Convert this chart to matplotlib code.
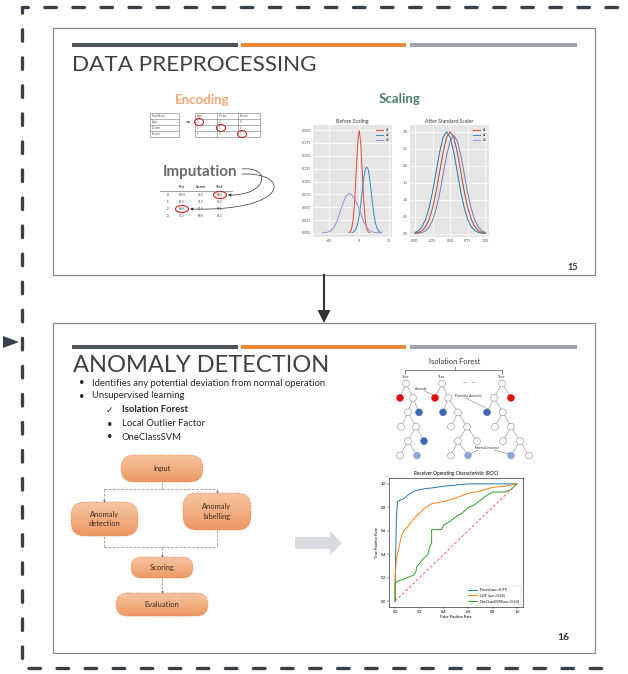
import numpy as np
import matplotlib
matplotlib.use("Agg")
import matplotlib.pyplot as plt
from matplotlib.patches import FancyBboxPatch, Rectangle, Circle, Polygon, Ellipse, FancyArrowPatch
from matplotlib.path import Path
from matplotlib.colors import LinearSegmentedColormap

plt.rcParams['font.family'] = ['Lato', 'DejaVu Sans']
plt.rcParams['lines.scale_dashes'] = False

# ---------------- data ----------------
# densities before scaling
b_x1_x = [-7, -6, -5, -4, -3, -2, -1, 0, 1, 2, 3, 4, 5, 6, 7]
b_x1_y = [0.0004, 0.0022, 0.0088, 0.027, 0.0648, 0.121, 0.176, 0.1995, 0.176, 0.121, 0.0648, 0.027, 0.0088, 0.0022, 0.0004]
b_x2_x = [-5, -4, -3, -2, -1, 0, 1, 2, 3, 4, 5, 6, 7, 8, 9, 10, 11, 12, 13, 14, 15]
b_x2_y = [0.0005, 0.0015, 0.0038, 0.0088, 0.018, 0.033, 0.055, 0.081, 0.106, 0.124, 0.128, 0.124, 0.106, 0.081, 0.055, 0.033, 0.018, 0.0088, 0.0038, 0.0015, 0.0005]
b_x3_x = [-25, -23, -21, -19, -17, -15, -13, -11, -9, -7, -5, -3, -1, 1, 3, 5, 7, 9, 11, 13, 15]
b_x3_y = [0.0001, 0.0005, 0.0016, 0.0045, 0.011, 0.022, 0.039, 0.057, 0.071, 0.077, 0.074, 0.066, 0.054, 0.038, 0.022, 0.011, 0.0045, 0.0016, 0.0005, 0.0001, 0.0]
before_ticks_y = [0.000, 0.025, 0.050, 0.075, 0.100, 0.125, 0.150, 0.175, 0.200]
before_ticks_x = [-20, 0, 20]

# densities after scaling
a_grid = [0.0, 0.05, 0.1, 0.15, 0.2, 0.25, 0.3, 0.35, 0.4, 0.45, 0.5, 0.55, 0.6, 0.65, 0.7, 0.75, 0.8, 0.85, 0.9, 0.95, 1.0]
a_x1_y = [0.012, 0.033, 0.086, 0.20, 0.41, 0.75, 1.23, 1.82, 2.40, 2.84, 3.0, 2.84, 2.40, 1.82, 1.23, 0.75, 0.41, 0.20, 0.086, 0.033, 0.012]
a_x2_y = [0.033, 0.086, 0.20, 0.41, 0.75, 1.23, 1.82, 2.40, 2.84, 3.0, 2.84, 2.40, 1.82, 1.23, 0.75, 0.41, 0.20, 0.086, 0.033, 0.012, 0.004]
a_x3_y = [0.004, 0.012, 0.032, 0.083, 0.19, 0.39, 0.72, 1.18, 1.75, 2.31, 2.73, 2.90, 2.73, 2.31, 1.75, 1.18, 0.72, 0.39, 0.19, 0.083, 0.032]
after_ticks_x = [0.0, 0.25, 0.5, 0.75, 1.0]
after_ticks_y = [0.0, 0.5, 1.0, 1.5, 2.0, 2.5, 3.0]
series_names = ['x1', 'x2', 'x3']

# ROC curves
roc_if_fpr = [0.0, 0.0, 0.005, 0.01, 0.02, 0.04, 0.06, 0.08, 0.10, 0.13, 0.16, 0.20, 0.25, 0.30, 0.40, 0.50, 0.60, 1.0]
roc_if_tpr = [0.0, 0.05, 0.40, 0.70, 0.85, 0.86, 0.87, 0.88, 0.90, 0.92, 0.94, 0.95, 0.96, 0.965, 0.98, 0.99, 1.0, 1.0]
roc_lof_fpr = [0.0, 0.0, 0.01, 0.03, 0.05, 0.07, 0.10, 0.15, 0.18, 0.20, 0.25, 0.30, 0.40, 0.50, 0.60, 0.70, 0.80, 0.90, 1.0]
roc_lof_tpr = [0.0, 0.20, 0.35, 0.45, 0.55, 0.60, 0.63, 0.70, 0.73, 0.75, 0.80, 0.83, 0.85, 0.88, 0.92, 0.94, 0.97, 0.98, 1.0]
roc_svm_fpr = [0.0, 0.0, 0.02, 0.05, 0.10, 0.15, 0.17, 0.18, 0.20, 0.22, 0.25, 0.27, 0.28, 0.30, 0.30, 0.38, 0.40, 0.45, 0.50, 0.55, 0.60, 0.65, 0.70, 0.75, 0.80, 0.90, 0.95, 1.0]
roc_svm_tpr = [0.0, 0.15, 0.17, 0.18, 0.20, 0.22, 0.25, 0.30, 0.32, 0.35, 0.38, 0.40, 0.45, 0.50, 0.61, 0.61, 0.65, 0.68, 0.72, 0.75, 0.80, 0.82, 0.86, 0.90, 0.93, 0.93, 0.95, 1.0]
roc_labels = ['IForest(auc=0.97)', 'LOF (auc=0.84)', 'OneClassSVM(auc=0.64)']
roc_ticks = [0.0, 0.2, 0.4, 0.6, 0.8, 1.0]

# slide text
bullets = ['Identifies any potential deviation from normal operation', 'Unsupervised learning']
sub_items = ['Isolation Forest', 'Local Outlier Factor', 'OneClassSVM']
flow_steps = ['Input', 'Anomaly\ndetection', 'Anomaly\nlabelling', 'Scoring', 'Evaluation']

# ---------------- canvas ----------------
W, H = 628, 674
fig = plt.figure(figsize=(W / 100, H / 100), dpi=100)
ax = fig.add_axes([0, 0, 1, 1])
ax.set_xlim(0, W)
ax.set_ylim(H, 0)
ax.axis('off')

DARK = '#37414a'


def px_axes(x0, y0, x1, y1):
    return fig.add_axes([x0 / W, 1 - y1 / H, (x1 - x0) / W, (y1 - y0) / H])


# outer dashed frame
frame, = ax.plot([617, 22, 22, 617], [7, 7, 668, 668], color=DARK, lw=2.4,
                 dash_capstyle='round', solid_capstyle='round')
frame.set_dashes([8.3, 11.9])
ax.add_patch(Polygon([(3, 336), (19, 342), (3, 348)], closed=True, color=DARK, lw=0))

# slides
for (y0, h) in [(28, 247), (323, 330)]:
    ax.add_patch(Rectangle((53, y0), 542, h, fc='white', ec='#8a8a8a', lw=0.9))

# arrow between slides
ax.plot([324, 324], [275, 311], color='#333333', lw=1.5)
ax.add_patch(Polygon([(317.5, 310), (330.5, 310), (324, 323)], closed=True, color='#333333', lw=0))

# header bars
for yb in (45, 347):
    for (x0, x1, c) in [(72, 238, '#4b555c'), (241, 406, '#e8893a'), (410, 577, '#9ca3a9')]:
        ax.add_patch(Rectangle((x0, yb - 2), x1 - x0, 4, fc=c, ec='none'))

# titles
ax.text(72, 71, 'DATA PREPROCESSING', fontsize=16.2, color='#404040', va='baseline', ha='left')
ax.text(73, 372, 'ANOMALY DETECTION', fontsize=17.0, color='#404040', va='baseline', ha='left')
ax.text(573, 267, '15', fontsize=6.5, color='#333333', ha='center', va='center', fontweight='bold')
ax.text(563, 637, '16', fontsize=7.5, color='#333333', ha='center', va='center', fontweight='bold')

# ---------------- encoding ----------------
ax.text(202, 100, 'Encoding', fontsize=9.5, color='#f4a675', fontweight='bold', ha='center', va='center')
tiny = dict(fontsize=1.8, color='#555555', va='center', ha='left')
row_h = 6
ty0 = 113
ax.add_patch(Rectangle((150, ty0), 29, 4 * row_h, fc='white', ec='#777777', lw=0.4))
for i, name in enumerate(['Food Name', 'Apple', 'Chicken', 'Broccoli']):
    if i:
        ax.plot([150, 179], [ty0 + i * row_h] * 2, color='#777777', lw=0.4)
    ax.text(152, ty0 + (i + 0.5) * row_h, name, **tiny)
cols = [195, 217, 238, 260]
ax.add_patch(Rectangle((195, ty0), 65, 4 * row_h, fc='white', ec='#777777', lw=0.4))
for c in cols[1:-1]:
    ax.plot([c, c], [ty0, ty0 + 4 * row_h], color='#777777', lw=0.4)
for i in range(1, 4):
    ax.plot([195, 260], [ty0 + i * row_h] * 2, color='#777777', lw=0.4)
for j, name in enumerate(['Apple', 'Chicken', 'Broccoli']):
    ax.text(cols[j] + 2, ty0 + 0.5 * row_h, name, **tiny)
    for i in range(3):
        ax.text(cols[j] + 2, ty0 + (i + 1.5) * row_h, '1' if i == j else '0', **tiny)
    ax.add_patch(Ellipse((cols[j] + 4, ty0 + (j + 1.5) * row_h), 9, 7, fc='none', ec='#d21f1f', lw=0.8))
ax.annotate('', xy=(193, ty0 + 1.5 * row_h), xytext=(183, ty0 + 1.5 * row_h),
            arrowprops=dict(arrowstyle='-|>', color='#555555', lw=0.4, mutation_scale=3))

# ---------------- imputation ----------------
ax.text(200, 172, 'Imputation', fontsize=11, color='#6b6b6b', fontweight='bold', ha='center', va='center')
imp_cols = [168, 182, 201, 220]
imp_rows = [195, 202, 209, 216]
for j, name in enumerate(['First', 'Second', 'Third']):
    ax.text(imp_cols[j + 1], 187, name, fontsize=2.2, fontweight='bold', color='#333333', ha='center', va='center')
ax.plot([160, 232], [190.5, 190.5], color='#555555', lw=0.4)
imp_vals = [['100.0', '30.0', 'NaN'], ['90.0', '45.0', '56.0'], ['NaN', '80.0', '80.0'], ['95.0', 'NaN', '98.0']]
for i, row in enumerate(imp_vals):
    ax.text(imp_cols[0], imp_rows[i], str(i), fontsize=2.0, color='#333333', ha='center', va='center', fontweight='bold')
    for j, v in enumerate(row):
        ax.text(imp_cols[j + 1], imp_rows[i], v, fontsize=2.0, color='#444444', ha='center', va='center')
ax.add_patch(Ellipse((imp_cols[3], imp_rows[0]), 13, 7, fc='none', ec='#d21f1f', lw=0.8))
ax.add_patch(Ellipse((imp_cols[1], imp_rows[2]), 13, 7, fc='none', ec='#d21f1f', lw=0.8))
curve1 = Path([(242, 169), (272, 166), (268, 196), (228, imp_rows[0])],
              [Path.MOVETO, Path.CURVE4, Path.CURVE4, Path.CURVE4])
curve2 = Path([(242, 174), (292, 172), (290, 212), (190, imp_rows[2])],
              [Path.MOVETO, Path.CURVE4, Path.CURVE4, Path.CURVE4])
for cp in (curve1, curve2):
    ax.add_patch(FancyArrowPatch(path=cp, arrowstyle='-|>', color='#333333', lw=0.5, mutation_scale=4))

# ---------------- scaling ----------------
ax.text(400, 99, 'Scaling', fontsize=9.5, color='#4e7d6c', fontweight='bold', ha='center', va='center')
gg_colors = ['#E24A33', '#348ABD', '#988ED5']


def gg_style(a):
    a.set_facecolor('#E5E5E5')
    for s in a.spines.values():
        s.set_visible(False)
    a.grid(True, color='white', lw=0.5)
    a.set_axisbelow(True)
    a.tick_params(length=0, labelsize=2.6, labelcolor='#555555', pad=1.5)


ab = px_axes(313, 125, 392, 237)
gg_style(ab)
for xs, ys, c, n in zip([b_x1_x, b_x2_x, b_x3_x], [b_x1_y, b_x2_y, b_x3_y], gg_colors, series_names):
    ab.plot(xs, ys, color=c, lw=0.7, label=n)
ab.set_xlim(-31, 22)
ab.set_ylim(-0.008, 0.21)
ab.set_xticks(before_ticks_x)
ab.set_yticks(before_ticks_y)
ab.set_yticklabels([f'{v:.3f}' for v in before_ticks_y])
ab.set_title('Before Scaling', fontsize=3.7, pad=1.5, color='#333333')
ab.legend(fontsize=2.3, frameon=False, loc='upper right', handlelength=2.2, labelspacing=0.3)

aa = px_axes(410, 125, 489, 237)
gg_style(aa)
for ys, c, n in zip([a_x1_y, a_x2_y, a_x3_y], gg_colors, series_names):
    aa.plot(a_grid, ys, color=c, lw=0.7, label=n)
for ys in (a_x1_y, a_x2_y, a_x3_y):
    aa.plot(a_grid, ys, color='#555566', lw=0.35, alpha=0.6)
aa.set_xlim(-0.07, 1.05)
aa.set_ylim(-0.1, 3.2)
aa.set_xticks(after_ticks_x)
aa.set_xticklabels([f'{v:.2f}' for v in after_ticks_x])
aa.set_yticks(after_ticks_y)
aa.set_title('After Standard Scaler', fontsize=3.7, pad=1.5, color='#333333')
aa.legend(fontsize=2.3, frameon=False, loc='upper right', handlelength=2.2, labelspacing=0.3)

# ---------------- bullets ----------------
btxt = dict(fontsize=6.8, color='#262626', va='center', ha='left')
ax.text(79, 383, '•', **btxt)
ax.text(92, 383, bullets[0], **btxt)
ax.text(79, 396, '•', **btxt)
ax.text(92, 396, bullets[1], **btxt)
ax.text(106, 410, '✓', fontsize=6.5, color='#262626', va='center', ha='left', family=['DejaVu Sans'])
ax.text(122, 410, sub_items[0], fontsize=6.8, color='#262626', va='center', ha='left', fontweight='bold')
ax.text(107, 424, '•', **btxt)
ax.text(122, 424, sub_items[1], **btxt)
ax.text(107, 437, '•', **btxt)
ax.text(122, 437, sub_items[2], **btxt)

# ---------------- isolation forest ----------------
ax.text(455, 362, 'Isolation Forest', fontsize=5.4, color='#333333', ha='center', va='center')
ax.plot([405, 405, 502, 502], [374, 370, 370, 374], color='#555555', lw=0.5)
ax.plot([455, 455], [370, 367], color='#555555', lw=0.5)
node_colors = {'w': 'white', 'r': '#e01010', 'b': '#3f66b3', 'lb': '#8aa4d6'}
trees = [
    (406, [(None, 0, 'w'), (0, -6, 'r'), (0, 7, 'w'), (2, -5, 'w'), (2, 6, 'b'), (3, -7, 'w'),
           (3, 8, 'w'), (6, -8, 'w'), (6, 8, 'b'), (7, -8, 'w'), (7, 9, 'lb')]),
    (442, [(None, 0, 'w'), (0, -7, 'r'), (0, 6, 'w'), (2, -5, 'b'), (2, 10, 'w'), (4, -7, 'w'),
           (4, 9, 'w'), (6, -9, 'w'), (6, 10, 'w'), (7, -7, 'w'), (7, 10, 'lb')]),
    (502, [(None, 0, 'w'), (0, -8, 'w'), (0, 9, 'r'), (1, -7, 'b'), (1, 9, 'w'), (4, -8, 'w'),
           (4, 8, 'w'), (6, -8, 'w'), (6, 9, 'w'), (8, -9, 'lb'), (8, 9, 'w')]),
]
for root_x, nodes in trees:
    ax.text(root_x, 377, 'Tree', fontsize=2.6, color='#333333', ha='center', va='center')
    pos, lvl = [], []
    for parent, dx, kind in nodes:
        if parent is None:
            pos.append((root_x, 383.5))
            lvl.append(0)
        else:
            lv = lvl[parent] + 1
            pos.append((pos[parent][0] + dx, 383.5 + lv * 14.4))
            lvl.append(lv)
            ax.plot([pos[parent][0], pos[-1][0]], [pos[parent][1], pos[-1][1]], color='#8a8a8a', lw=0.4, zorder=3)
    for (x, y), (_, _, kind) in zip(pos, nodes):
        ax.add_patch(Circle((x, y), 3.4, fc=node_colors[kind], ec='#8a8a8a' if kind == 'w' else node_colors[kind],
                            lw=0.4, zorder=4))
ax.text(463, 383, '—   —', fontsize=4, color='#555555', ha='left', va='center')
ax.text(415, 389, 'Anomaly', fontsize=2.4, color='#333333', ha='left', va='center')
ax.plot([424, 433], [391, 394.5], color='#555555', lw=0.3)
ax.text(455, 396, 'Potential Anomaly', fontsize=2.4, color='#333333', ha='left', va='center')
ax.plot([465, 485], [398, 407.5], color='#555555', lw=0.3)
ax.text(475, 448, 'Normal Instance', fontsize=2.4, color='#333333', ha='left', va='center')
ax.plot([478, 470], [450, 454], color='#555555', lw=0.3)
ax.plot([494, 509], [450, 454], color='#555555', lw=0.3)

# ---------------- ROC ----------------
ar = px_axes(389, 478, 523, 607)
ar.plot(roc_if_fpr, roc_if_tpr, color='#1f77b4', lw=0.7, label=roc_labels[0])
ar.plot(roc_lof_fpr, roc_lof_tpr, color='#ff7f0e', lw=0.7, label=roc_labels[1])
ar.plot(roc_svm_fpr, roc_svm_tpr, color='#2ca02c', lw=0.7, label=roc_labels[2])
ar.plot([0, 1], [0, 1], color='#ff4d4d', lw=0.6, ls=(0, (2, 1.5)))
ar.set_xlim(-0.05, 1.05)
ar.set_ylim(-0.05, 1.05)
ar.set_xticks(roc_ticks)
ar.set_yticks(roc_ticks)
ar.tick_params(labelsize=2.8, length=1.2, width=0.3, pad=1)
for s in ar.spines.values():
    s.set_linewidth(0.4)
ar.set_title('Receiver Operating Characteristic (ROC)', fontsize=3.4, pad=2)
ar.set_xlabel('False Positive Rate', fontsize=2.8, labelpad=1)
ar.set_ylabel('True Positive Rate', fontsize=2.8, labelpad=1)
ar.legend(fontsize=2.6, loc='lower right', handlelength=2.5, borderpad=0.5, labelspacing=0.5, framealpha=1,
          edgecolor='#cccccc').get_frame().set_linewidth(0.3)

# ---------------- flowchart ----------------
box_cmap = LinearSegmentedColormap.from_list('box', ['#f7c5a2', '#ec9863'])
grad = np.linspace(0, 1, 64).reshape(-1, 1)
box_pos = [(121, 455, 203, 482), (71, 502, 138, 536), (183, 493, 251, 530), (131, 557, 193, 578), (116, 593, 208, 616)]
for label, (x0, y0, x1, y1) in zip(flow_steps, box_pos):
    r = min(14, (y1 - y0) / 2)
    patch = FancyBboxPatch((x0, y0), x1 - x0, y1 - y0, boxstyle=f'round,pad=0,rounding_size={r}',
                           fc='none', ec='#e58a52', lw=0.6, ls=(0, (1, 1)), zorder=3)
    ax.add_patch(patch)
    im = ax.imshow(grad, extent=(x0, x1, y1, y0), cmap=box_cmap, aspect='auto', zorder=2, interpolation='bilinear')
    im.set_clip_path(patch)
    ax.text((x0 + x1) / 2, (y0 + y1) / 2, label, fontsize=5.4, color='#3a2a20', ha='center', va='center',
            linespacing=1.5, zorder=4)

conn = dict(color='#9a9a9a', lw=0.6, ls=(0, (2, 1)))
ax.plot([162, 162], [482, 489], **conn)
ax.plot([104, 217], [489, 489], **conn)
ax.plot([104, 104], [489, 500], **conn)
ax.plot([217, 217], [489, 491], **conn)
ax.plot([104, 104], [536, 547], **conn)
ax.plot([217, 217], [530, 547], **conn)
ax.plot([104, 217], [547, 547], **conn)
ax.plot([162, 162], [547, 555], **conn)
ax.plot([162, 162], [578, 591], **conn)
for (x, y) in [(104, 501), (217, 492), (162, 556), (162, 592)]:
    ax.plot(x, y, marker='v', ms=2, color='#7a7a7a', mec='none')

# big grey arrow
ax.add_patch(Polygon([(295, 537), (330, 537), (330, 531), (342, 543), (330, 555), (330, 549), (295, 549)],
                     closed=True, fc='#d7dbdf', ec='none'))

ax.set_xlim(0, W)
ax.set_ylim(H, 0)
fig.savefig('out.png', dpi=100)
